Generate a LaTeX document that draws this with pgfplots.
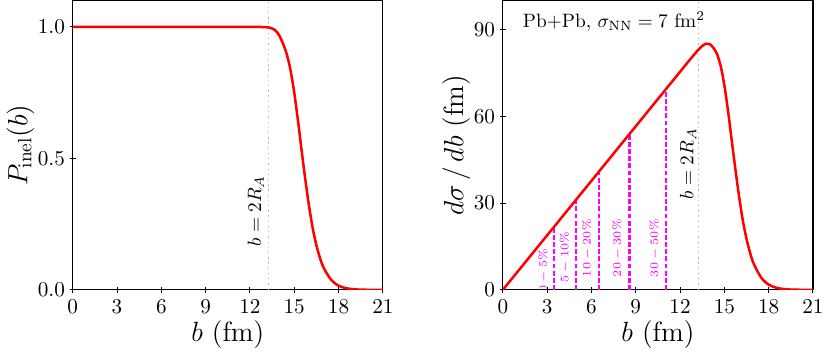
\documentclass[border=0pt]{standalone}
\usepackage{pgfplots}
\pgfplotsset{compat=1.18}
\definecolor{mag}{rgb}{1,0,1}
\pgfplotstableread{
b P
0 1.0
2 1.0
4 1.0
6 1.0
8 1.0
10 1.0
12 1.0
12.5 1.0
13.0 0.999
13.25 0.998
13.5 0.994
13.75 0.985
14.0 0.966
14.25 0.935
14.5 0.895
14.75 0.835
15.0 0.75
15.25 0.645
15.5 0.53
15.75 0.42
16.0 0.32
16.25 0.235
16.5 0.17
16.75 0.12
17.0 0.083
17.5 0.038
18.0 0.016
18.5 0.0065
19.0 0.0025
19.5 0.0009
20.0 0.0003
21.0 0.0
}\Pinel
\pgfplotstableread{
b S
0 0
1 6.283
2 12.566
3 18.85
4 25.13
5 31.42
6 37.70
7 43.98
8 50.27
9 56.55
10 62.83
11 69.12
12 75.40
12.5 78.54
13.0 81.60
13.25 83.08
13.5 84.31
13.75 85.09
14.0 84.97
14.25 83.72
14.5 81.54
14.75 77.39
15.0 70.69
15.25 61.80
15.5 51.62
15.75 41.56
16.0 32.17
16.25 23.99
16.5 17.62
16.75 12.63
17.0 8.87
17.5 4.18
18.0 1.81
18.5 0.756
19.0 0.298
19.5 0.110
20.0 0.038
21.0 0.0
}\Dsig
\begin{document}
\begin{tikzpicture}
\pgfplotsset{
  every axis/.style={
    scale only axis, width=160.5pt, height=149.7pt,
    xmin=0, xmax=21, xtick={0,3,...,21},
    tick pos=left, tick align=center,
    major tick length=3pt,
    axis line style={line width=0.6pt},
    tick style={line width=0.5pt, black},
    label style={font=\Large},
    tick label style={font=\fontsize{11}{13}\selectfont},
    xlabel style={yshift=3pt},
    ylabel style={yshift=-5pt},
    yticklabel style={xshift=1pt},
  }
}
\begin{axis}[
  name=left, at={(0pt,0pt)},
  ymin=0, ymax=1.1, ytick={0,0.5,1.0},
  yticklabel style={/pgf/number format/fixed, /pgf/number format/fixed zerofill, /pgf/number format/precision=1},
  xlabel={$b$ (fm)}, ylabel={$P_{\rm inel}(b)$},
]
\addplot[gray!60, dotted, line width=0.7pt] coordinates {(13.27,0) (13.27,1.1)};
\addplot[red, line width=1.3pt, smooth] table[x=b, y=P] {\Pinel};
\node[rotate=90, font=\normalsize] at (axis cs:12.4,0.30) {$b=2R_A$};
\end{axis}
\begin{axis}[
  name=right, at={(222.6pt,0pt)},
  ymin=0, ymax=100, ytick={0,30,60,90},
  xlabel={$b$ (fm)}, ylabel={$d\sigma\,/\,db$ (fm)},
]
\addplot[gray!60, dotted, line width=0.7pt] coordinates {(13.27,0) (13.27,100)};
\addplot[mag, line width=1.1pt, dash pattern=on 2.5pt off 1.2pt] coordinates {(3.48,0) (3.48,21.9)};
\addplot[mag, line width=1.1pt, dash pattern=on 2.5pt off 1.2pt] coordinates {(4.95,0) (4.95,31.1)};
\addplot[mag, line width=1.1pt, dash pattern=on 2.5pt off 1.2pt] coordinates {(6.49,0) (6.49,40.8)};
\addplot[mag, line width=1.1pt, dash pattern=on 2.5pt off 1.2pt] coordinates {(8.58,0) (8.58,53.9)};
\addplot[mag, line width=1.1pt, dash pattern=on 2.5pt off 1.2pt] coordinates {(11.02,0) (11.02,69.2)};
\addplot[red, line width=1.3pt, smooth] table[x=b, y=S] {\Dsig};
\node[rotate=90, font=\normalsize] at (axis cs:12.55,43.6) {$b=2R_A$};
\node[anchor=west, font=\normalsize] at (axis cs:0.9,92.7) {Pb+Pb, $\sigma_{\rm NN}=7$ fm$^2$};
\begin{scope}[every node/.style={rotate=90, text=mag, font=\fontsize{6.5}{7}\selectfont}]
\node at (axis cs:2.74,6.5) {$0-5\%$};
\node at (axis cs:4.2,11.3) {$5-10\%$};
\node at (axis cs:5.71,14.4) {$10-20\%$};
\node at (axis cs:7.76,14.4) {$20-30\%$};
\node at (axis cs:10.28,14.4) {$30-50\%$};
\end{scope}
\end{axis}
\end{tikzpicture}
\end{document}
